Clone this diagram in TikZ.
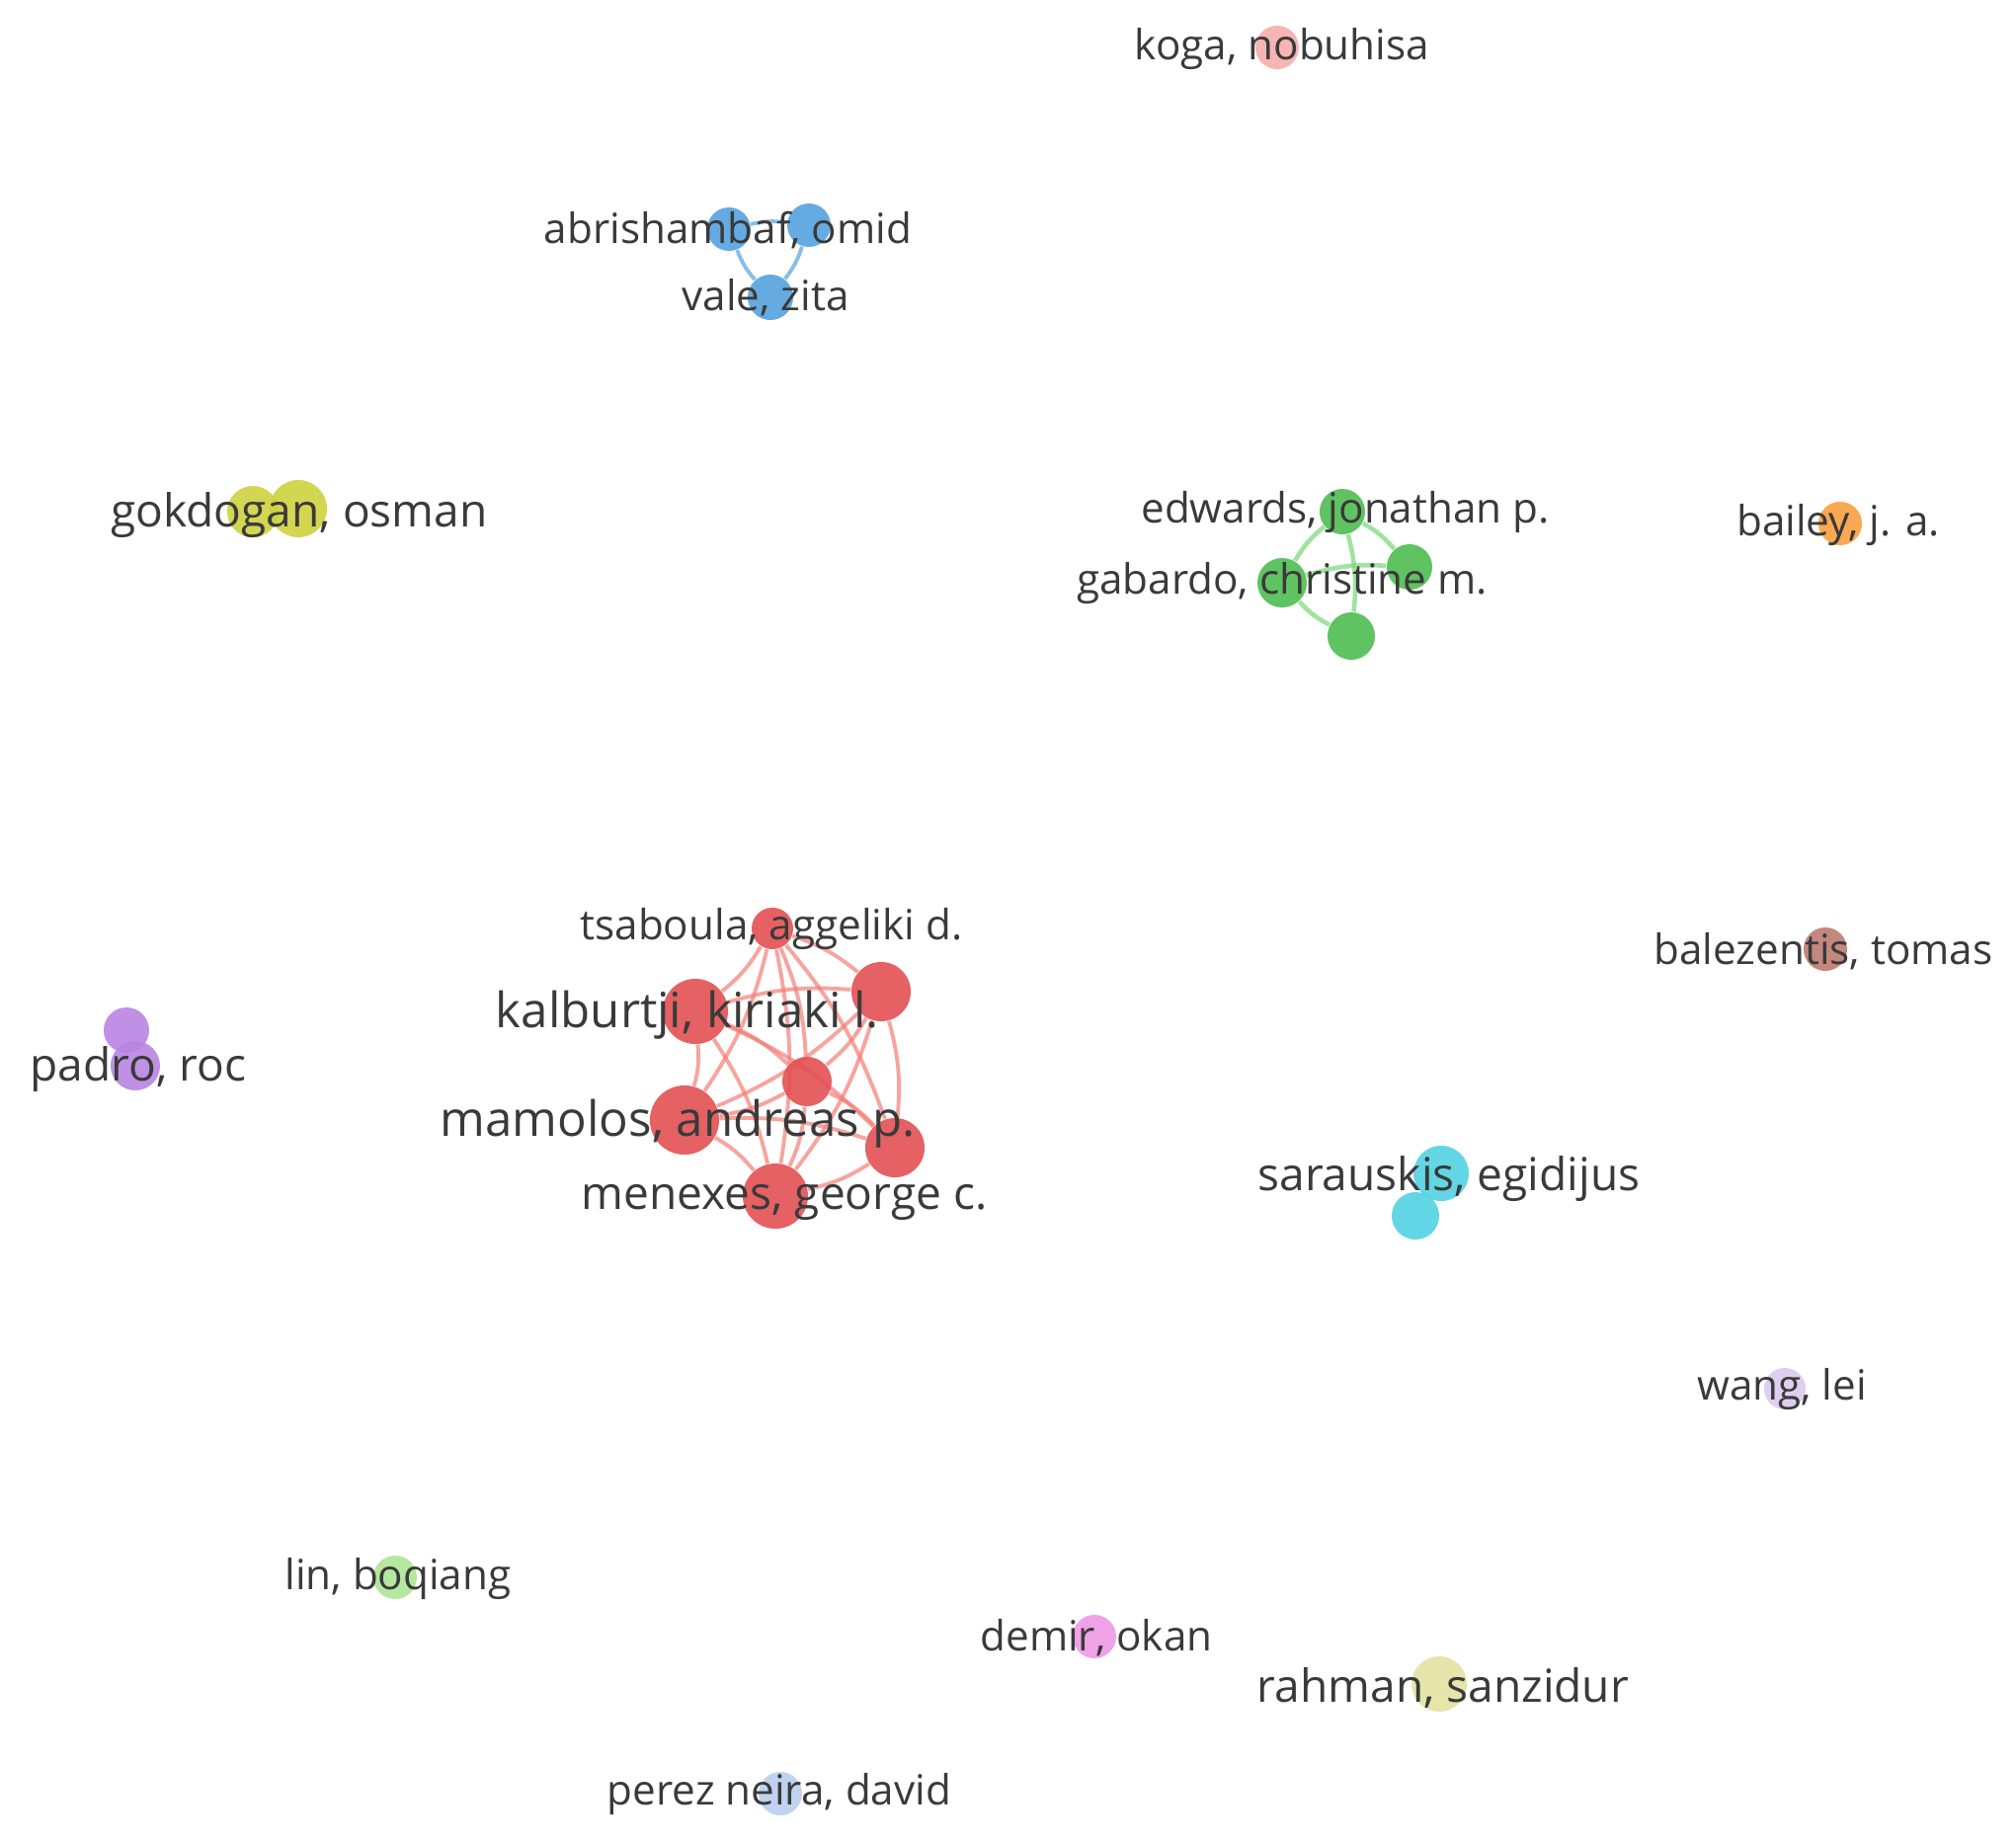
\documentclass[tikz,border=0pt]{standalone}
\usepackage{fontspec}
\setmainfont{Open Sans}
\usetikzlibrary{backgrounds}
\definecolor{labgray}{RGB}{58,58,58}
\definecolor{vred}{RGB}{226,80,82}
\definecolor{vredl}{RGB}{244,125,118}
\definecolor{vblue}{RGB}{84,162,222}
\definecolor{vgreen}{RGB}{78,188,80}
\definecolor{vgreenl}{RGB}{120,215,120}
\definecolor{volive}{RGB}{206,210,62}
\definecolor{vorange}{RGB}{250,158,62}
\definecolor{vbrown}{RGB}{190,122,112}
\definecolor{vpurple}{RGB}{184,132,226}
\definecolor{vcyan}{RGB}{82,210,226}
\definecolor{vpink}{RGB}{246,172,172}
\definecolor{vlav}{RGB}{218,202,238}
\definecolor{vlgreen}{RGB}{172,230,150}
\definecolor{vmagenta}{RGB}{238,152,228}
\definecolor{vcream}{RGB}{226,226,160}
\definecolor{vsky}{RGB}{184,206,238}
\begin{document}
\begin{tikzpicture}[x=0.01cm,y=-0.01cm,
  au/.style={circle,inner sep=0pt,minimum size=#1*0.02cm,fill opacity=0.9},
  lab/.style={text=labgray,inner sep=0pt,yshift=-0.04cm,font=\fontsize{12}{14}\selectfont},
  labm/.style={lab,font=\fontsize{13.1}{15}\selectfont},
  labl/.style={lab,font=\fontsize{14}{16}\selectfont},
  link/.style={line width=1.1pt,opacity=0.7,bend left=10}]
\useasboundingbox (0,0) rectangle (2041,1865);

\node[au=22,fill=vpink] (kog) at (1293,48) {};

\node[au=22,fill=vblue] (abr) at (738,232) {};
\node[au=22,fill=vblue] (bne) at (819,228) {};
\node[au=23,fill=vblue] (val) at (780,301) {};

\node[au=26,fill=volive] (gok) at (256,518) {};
\node[au=29,fill=volive] (gok2) at (302,515) {};

\node[au=23,fill=vgreen] (edw) at (1359,518) {};
\node[au=25,fill=vgreen] (gab) at (1298,590) {};
\node[au=23,fill=vgreen] (gre) at (1427,574) {};
\node[au=24,fill=vgreen] (gbo) at (1368,644) {};

\node[au=22,fill=vorange] (bai) at (1863,530) {};
\node[au=22,fill=vbrown] (bal) at (1848,961) {};

\node[au=21,fill=vred] (tsa) at (782,940) {};
\node[au=33,fill=vred] (kal) at (704,1024) {};
\node[au=30,fill=vred] (rne) at (892,1004) {};
\node[au=25,fill=vred] (rce) at (817,1095) {};
\node[au=35,fill=vred] (mam) at (693,1134) {};
\node[au=30,fill=vred] (rse) at (906,1162) {};
\node[au=33,fill=vred] (men) at (785,1211) {};

\node[au=23,fill=vpurple] (pad2) at (128,1043) {};
\node[au=25,fill=vpurple] (pad) at (137,1079) {};

\node[au=28,fill=vcyan] (sar) at (1459,1188) {};
\node[au=24,fill=vcyan] (sar2) at (1433,1231) {};

\node[au=21,fill=vlav] (wan) at (1807,1406) {};
\node[au=22,fill=vlgreen] (lin) at (400,1597) {};
\node[au=22,fill=vmagenta] (dem) at (1108,1657) {};
\node[au=28,fill=vcream] (rah) at (1457,1705) {};
\node[au=22,fill=vsky] (per) at (790,1816) {};

\begin{scope}[on background layer]
\foreach \a/\b in {abr/bne,bne/val,val/abr}
  \draw[link,vblue] (\a) to (\b);
\foreach \a/\b in {gab/edw,edw/gre,edw/gbo,gab/gre,gbo/gab}
  \draw[link,vgreenl,line width=1.3pt] (\a) to (\b);
\foreach \a/\b in {tsa/kal,tsa/rne,tsa/rce,tsa/mam,tsa/rse,tsa/men,
  kal/rne,kal/rce,kal/mam,kal/rse,kal/men,rne/rce,rne/mam,rne/rse,rne/men,
  rce/mam,rce/rse,rce/men,mam/rse,mam/men,rse/men}
  \draw[link,vredl] (\a) to (\b);
\end{scope}

\node[lab] (kogL) at (1298,46) {koga, nobuhisa};
\node[lab] (abrL) at (737,229) {abrishambaf, omid};
\node[lab] (valL) at (775,297) {vale, zita};
\node[labm] (gokL) at (303,518) {gokdogan, osman};
\node[lab] (edwL) at (1362,515) {edwards, jonathan p.};
\node[lab] (gabL) at (1298,587) {gabardo, christine m.};
\node[lab] (baiL) at (1861,528) {bailey, j. a.};
\node[lab] (balL) at (1846,959) {balezentis, tomas};
\node[lab] (tsaL) at (781,937) {tsaboula, aggeliki d.};
\node[labl] (kalL) at (696,1024) {kalburtji, kiriaki l.};
\node[labl] (mamL) at (686,1134) {mamolos, andreas p.};
\node[labm] (menL) at (794,1213) {menexes, george c.};
\node[labm] (padL) at (140,1079) {padro, roc};
\node[labm] (sarL) at (1467,1190) {sarauskis, egidijus};
\node[lab] (wanL) at (1804,1403) {wang, lei};
\node[lab] (linL) at (403,1595) {lin, boqiang};
\node[lab] (demL) at (1110,1654) {demir, okan};
\node[labm] (rahL) at (1461,1705) {rahman, sanzidur};
\node[lab] (perL) at (789,1813) {perez neira, david};
\end{tikzpicture}
\end{document}
